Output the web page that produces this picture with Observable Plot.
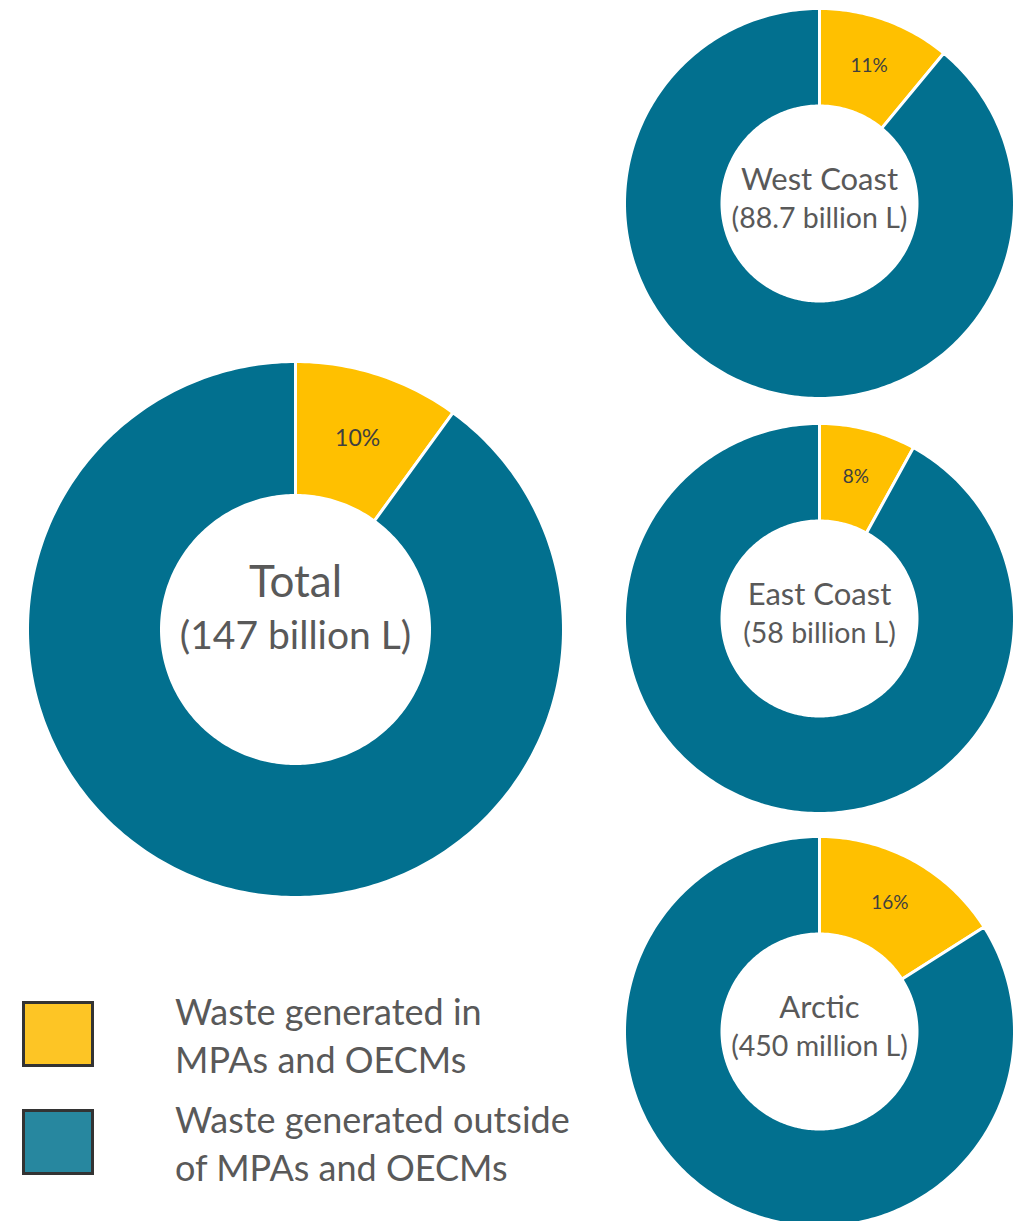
<!DOCTYPE html>
<html>
<head>
<meta charset="utf-8">
<script src="https://cdn.jsdelivr.net/npm/d3@7"></script>
<script src="https://cdn.jsdelivr.net/npm/@observablehq/plot@0.6"></script>
<style>
  html, body { margin: 0; padding: 0; background: #fff; overflow: hidden; }
  #wrap { position: relative; width: 1023px; height: 1221px; }
  #legend { position: absolute; left: 0; top: 0; font-family: Lato, "Open Sans", sans-serif; color: #595959; }
  .sw { position: absolute; width: 66px; height: 60px; border: 3px solid #333; box-sizing: content-box; }
  .lt { position: absolute; font-size: 36px; line-height: 48px; white-space: nowrap; }
</style>
</head>
<body>
<div id="wrap"><div id="chart"></div><div id="legend"></div></div>
<script>
// ---- data ----
const regions = ["Total", "West Coast", "East Coast", "Arctic"];
const volumes = ["(147 billion L)", "(88.7 billion L)", "(58 billion L)", "(450 million L)"];
const insidePct = [10, 11, 8, 16];
const categories = ["Waste generated in MPAs and OECMs", "Waste generated outside of MPAs and OECMs"];
const legendLines = [["Waste generated in", "MPAs and OECMs"], ["Waste generated outside", "of MPAs and OECMs"]];
const colors = ["#FFC000", "#02708F"];
const legendColors = ["#FDC525", "#27879F"];

// ---- layout (pixels) ----
const W = 1023, H = 1221;
const layout = [
  {cx: 295, cy: 629, R: 268, big: true},
  {cx: 819, cy: 203, R: 195, big: false},
  {cx: 819, cy: 618, R: 195, big: false},
  {cx: 819, cy: 1031, R: 195, big: false}
];
const innerRatio = 0.5;

// build slice polygons from the shares
const pts = [];
const labels = [];
regions.forEach((name, i) => {
  const {cx, cy, R} = layout[i];
  const r = R * innerRatio;
  const shares = [insidePct[i], 100 - insidePct[i]];
  let start = 0;
  shares.forEach((s, k) => {
    const a0 = start / 100 * 2 * Math.PI, a1 = (start + s) / 100 * 2 * Math.PI;
    const n = Math.max(4, Math.ceil((a1 - a0) / (Math.PI / 180)));
    const id = name + "-" + k;
    for (let j = 0; j <= n; j++) {
      const a = a0 + (a1 - a0) * j / n;
      pts.push({id, cat: categories[k], x: cx + R * Math.sin(a), y: cy - R * Math.cos(a)});
    }
    for (let j = n; j >= 0; j--) {
      const a = a0 + (a1 - a0) * j / n;
      pts.push({id, cat: categories[k], x: cx + r * Math.sin(a), y: cy - r * Math.cos(a)});
    }
    if (k === 0) {
      const am = (a0 + a1) / 2, rm = (R + r) / 2;
      labels.push({text: s + "%", x: cx + rm * Math.sin(am), y: cy - rm * Math.cos(am), big: layout[i].big});
    }
    start += s;
  });
});

const centerText = [];
regions.forEach((name, i) => {
  const {cx, cy, big} = layout[i];
  centerText.push({text: name, x: cx, y: cy + (big ? -47 : -23), big, line: 0});
  centerText.push({text: volumes[i], x: cx, y: cy + (big ? 7 : 15), big, line: 1});
});

const font = "Lato, 'Open Sans', sans-serif";
const plot = Plot.plot({
  width: W, height: H,
  margin: 0,
  x: {domain: [0, W], range: [0, W], axis: null},
  y: {domain: [0, H], range: [0, H], axis: null},
  color: {domain: categories, range: colors},
  style: {fontFamily: font, background: "white"},
  marks: [
    Plot.line(pts, {x: "x", y: "y", z: "id", fill: "cat", stroke: "white", strokeWidth: 3, strokeLinejoin: "round", curve: "linear-closed"}),
    Plot.text(labels.filter(d => d.big), {x: "x", y: "y", text: "text", fontSize: 23, fill: "#3f3f3f"}),
    Plot.text(labels.filter(d => !d.big), {x: "x", y: "y", text: "text", fontSize: 19, fill: "#3f3f3f"}),
    Plot.text(centerText.filter(d => d.big && d.line === 0), {x: "x", y: "y", text: "text", fontSize: 44, fill: "#595959"}),
    Plot.text(centerText.filter(d => d.big && d.line === 1), {x: "x", y: "y", text: "text", fontSize: 39, fill: "#595959"}),
    Plot.text(centerText.filter(d => !d.big && d.line === 0), {x: "x", y: "y", text: "text", fontSize: 31, fill: "#595959"}),
    Plot.text(centerText.filter(d => !d.big && d.line === 1), {x: "x", y: "y", text: "text", fontSize: 28.5, fill: "#595959"})
  ]
});
document.getElementById("chart").appendChild(plot);

// legend
const leg = document.getElementById("legend");
categories.forEach((c, k) => {
  const top = 1001 + k * 108;
  const sw = document.createElement("div");
  sw.className = "sw";
  sw.style.left = "22px"; sw.style.top = top + "px";
  sw.style.background = legendColors[k];
  leg.appendChild(sw);
  legendLines[k].forEach((line, j) => {
    const t = document.createElement("div");
    t.className = "lt";
    t.style.left = "175px";
    t.style.top = (top - 14 + j * 48) + "px";
    t.textContent = line;
    leg.appendChild(t);
  });
});
</script>
</body>
</html>
